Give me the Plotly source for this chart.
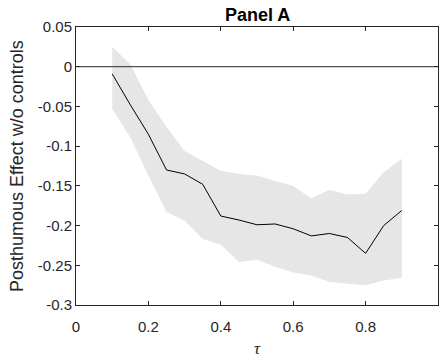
import plotly.graph_objects as go

tau = [0.10, 0.15, 0.20, 0.25, 0.30, 0.35, 0.40, 0.45, 0.50, 0.55, 0.60, 0.65, 0.70, 0.75, 0.80, 0.85, 0.90]
effect = [-0.009, -0.048, -0.085, -0.130, -0.135, -0.148, -0.188, -0.193, -0.199, -0.198, -0.204, -0.213, -0.210, -0.215, -0.235, -0.200, -0.181]
upper = [0.025, 0.003, -0.042, -0.076, -0.106, -0.118, -0.131, -0.135, -0.137, -0.144, -0.150, -0.166, -0.155, -0.161, -0.160, -0.133, -0.116]
lower = [-0.053, -0.089, -0.137, -0.183, -0.194, -0.217, -0.224, -0.246, -0.243, -0.252, -0.259, -0.263, -0.271, -0.273, -0.275, -0.269, -0.266]

x_ticks = [0, 0.2, 0.4, 0.6, 0.8, 1]
x_ticktext = ["0", "0.2", "0.4", "0.6", "0.8", "1"]
y_ticks = [0.05, 0, -0.05, -0.1, -0.15, -0.2, -0.25, -0.3]
y_ticktext = ["0.05", "0", "-0.05", "-0.1", "-0.15", "-0.2", "-0.25", "-0.3"]

AX = "#262626"
FONT = "Liberation Sans, Arial, Helvetica, sans-serif"

fig = go.Figure()
fig.add_trace(go.Scatter(x=tau, y=lower, mode="lines", line=dict(width=0, color="#e6e6e6"),
                         showlegend=False, hoverinfo="skip"))
fig.add_trace(go.Scatter(x=tau, y=upper, mode="lines", line=dict(width=0, color="#e6e6e6"),
                         fill="tonexty", fillcolor="#e6e6e6", showlegend=False, hoverinfo="skip"))
fig.add_trace(go.Scatter(x=tau, y=effect, mode="lines", line=dict(width=1, color="black"),
                         showlegend=False))

fig.add_shape(type="line", xref="x domain", yref="y", x0=0, x1=1, y0=0, y1=0,
              line=dict(color=AX, width=1), layer="above")

fig.update_layout(
    width=442, height=357,
    margin=dict(l=76, r=4, t=27, b=52),
    paper_bgcolor="white", plot_bgcolor="white",
    font=dict(family=FONT, size=15, color=AX),
    showlegend=False,
    annotations=[
        dict(text="<b>Panel A</b>", xref="paper", yref="paper", x=0.5, y=1, yshift=12,
             xanchor="center", yanchor="middle", showarrow=False,
             font=dict(family=FONT, size=18, color="black")),
        dict(text="Posthumous Effect w/o controls", xref="paper", yref="paper",
             x=-0.163, y=0.5, xanchor="center", yanchor="middle", textangle=-90,
             showarrow=False, font=dict(family=FONT, size=18, color=AX)),
        dict(text="<i>τ</i>", xref="paper", yref="paper", x=0.5, y=0, yshift=-43,
             xanchor="center", yanchor="middle", showarrow=False,
             font=dict(family="Liberation Serif, DejaVu Serif, serif", size=17, color=AX)),
    ],
)
fig.update_xaxes(range=[0, 1], tickvals=x_ticks, ticktext=x_ticktext, ticks="inside", ticklen=4,
                 tickcolor=AX, linecolor=AX, linewidth=1, mirror="ticks", showline=True,
                 showgrid=False, zeroline=False, tickfont=dict(size=15, color=AX),
                 ticklabelstandoff=8)
fig.update_yaxes(range=[-0.3, 0.05], tickvals=y_ticks, ticktext=y_ticktext, ticks="inside", ticklen=4,
                 tickcolor=AX, linecolor=AX, linewidth=1, mirror="ticks", showline=True,
                 showgrid=False, zeroline=False, tickfont=dict(size=15, color=AX))

fig.write_html("out.html", config={"displayModeBar": False},
               post_script="document.body.style.margin='0';document.body.style.padding='0';")
